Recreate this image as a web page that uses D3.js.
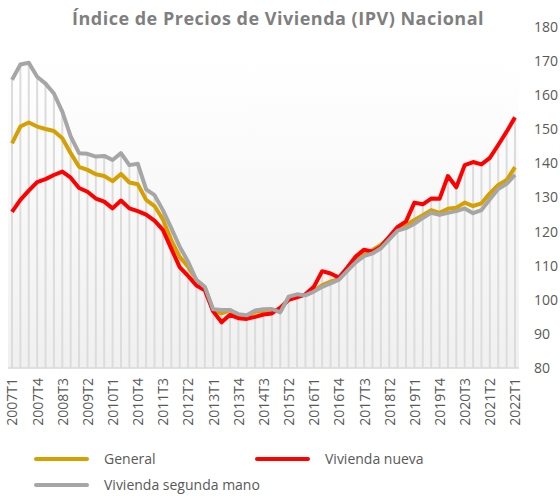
<!DOCTYPE html>
<html>
<head>
<meta charset="utf-8">
<script src="https://cdn.jsdelivr.net/npm/d3@7"></script>
<style>
  body { margin: 0; background: #fff; }
  svg { display: block; font-family: 'Open Sans', sans-serif; }
</style>
</head>
<body>
<svg id="chart" width="560" height="496"></svg>
<script>
// quarters 2007T1 .. 2022T1
const quarters = [];
for (let y = 2007; y <= 2022; y++) {
    for (let q = 1; q <= 4; q++) {
        if (y === 2022 && q > 1) break;
        quarters.push(`${y}T${q}`);
    }
}

const tickLabels = ['2007T1', '2007T4', '2008T3', '2009T2', '2010T1', '2010T4', '2011T3',
    '2012T2', '2013T1', '2013T4', '2014T3', '2015T2', '2016T1', '2016T4', '2017T3',
    '2018T2', '2019T1', '2019T4', '2020T3', '2021T2', '2022T1'];

const yTicks = [80, 90, 100, 110, 120, 130, 140, 150, 160, 170, 180];

const general = [145.9, 150.8, 152.0, 150.8, 150.1, 149.5, 147.4, 143.0, 139.0, 138.1,
    136.8, 136.3, 134.8, 136.9, 134.4, 133.9, 129.3, 127.5, 123.6, 117.5,
    112.6, 109.7, 105.8, 103.7, 96.8, 96.0, 97.0, 95.2, 95.0, 96.5,
    96.8, 97.0, 97.0, 100.3, 101.2, 101.4, 102.6, 104.3, 105.3, 106.1,
    108.8, 111.5, 113.4, 114.6, 116.1, 118.3, 121.2, 121.9, 123.4, 124.8,
    126.3, 125.5, 126.7, 127.0, 128.5, 127.5, 128.3, 131.2, 133.7, 135.1, 138.9];

const nueva = [125.8, 129.3, 132.0, 134.5, 135.4, 136.6, 137.6, 135.8, 132.8, 131.7,
    129.7, 128.8, 126.8, 129.1, 126.8, 126.0, 125.0, 123.2, 120.5, 115.0,
    109.6, 107.0, 104.2, 102.8, 96.6, 93.4, 95.6, 94.6, 94.4, 95.0,
    95.7, 96.0, 97.7, 100.0, 100.7, 101.6, 103.8, 108.4, 107.7, 106.5,
    109.5, 112.7, 114.7, 114.1, 115.6, 118.5, 121.4, 123.0, 128.5, 128.0,
    129.7, 129.6, 136.3, 133.0, 139.5, 140.4, 139.7, 141.6, 145.4, 149.3, 153.5];

const segundaMano = [164.5, 169.0, 169.5, 165.4, 163.4, 160.5, 155.2, 147.9, 143.0, 142.8,
    142.0, 142.2, 141.0, 143.0, 139.5, 139.9, 132.4, 130.7, 126.3, 121.0,
    115.6, 111.2, 105.8, 103.8, 97.2, 97.0, 97.0, 95.8, 95.5, 96.9,
    97.2, 97.3, 96.3, 100.9, 101.6, 101.3, 102.4, 103.8, 104.8, 105.9,
    108.5, 111.0, 112.8, 113.6, 115.1, 117.7, 120.3, 121.0, 122.3, 124.0,
    125.5, 124.9, 125.5, 126.0, 126.8, 125.4, 126.3, 129.5, 132.5, 134.0, 136.6];

const series = [
    { name: 'General', values: general, color: '#D6A000' },
    { name: 'Vivienda nueva', values: nueva, color: '#FF0000' },
    { name: 'Vivienda segunda mano', values: segundaMano, color: '#A6A6A6' },
];

const svg = d3.select('#chart');
const textColor = '#595959';

const x = d3.scalePoint().domain(quarters).range([12, 515]);
const y = d3.scaleLinear().domain([80, 180]).range([368, 27]);

// Plot background gradient
const grad = svg.append('defs').append('linearGradient')
    .attr('id', 'bg').attr('x1', 0).attr('y1', 0).attr('x2', 0).attr('y2', 1);
grad.append('stop').attr('offset', '0%').attr('stop-color', '#ffffff');
grad.append('stop').attr('offset', '100%').attr('stop-color', '#f0f0f0');
svg.append('rect')
    .attr('x', 8).attr('y', 60)
    .attr('width', 511).attr('height', y(80) - 60)
    .attr('fill', 'url(#bg)');

// Title
svg.append('text')
    .attr('x', 278).attr('y', 25)
    .attr('text-anchor', 'middle')
    .attr('font-size', 18).attr('font-weight', 'bold')
    .attr('letter-spacing', 0.5)
    .attr('fill', '#7f7f7f')
    .text('Índice de Precios de Vivienda (IPV) Nacional');

// Drop lines
svg.append('g').selectAll('line')
    .data(quarters)
    .join('line')
    .attr('x1', (d) => x(d)).attr('x2', (d) => x(d))
    .attr('y1', y(80))
    .attr('y2', (d, i) => y(d3.max(series, (s) => s.values[i])))
    .attr('stroke', '#dcdcdc').attr('stroke-width', 2);

// bottom border
svg.append('line')
    .attr('x1', 8).attr('x2', 519)
    .attr('y1', y(80)).attr('y2', y(80))
    .attr('stroke', '#d9d9d9').attr('stroke-width', 1.5);

// Y axis (right)
const yAxisGroup = svg.append('g')
    .attr('transform', 'translate(530,0)')
    .call(d3.axisRight(y).tickValues(yTicks).tickSize(0).tickPadding(4));
yAxisGroup.select('.domain').remove();
yAxisGroup.selectAll('text')
    .attr('fill', textColor)
    .attr('font-size', 14)
    .attr('font-family', "'Open Sans', sans-serif");

// X axis labels
const xAxisGroup = svg.append('g')
    .attr('transform', `translate(0,${y(80)})`)
    .call(d3.axisBottom(x).tickValues(tickLabels).tickSize(0));
xAxisGroup.select('.domain').remove();
xAxisGroup.selectAll('text')
    .attr('fill', textColor)
    .attr('font-size', 14)
    .attr('font-family', "'Open Sans', sans-serif")
    .attr('text-anchor', 'end')
    .attr('transform', 'translate(0,10) rotate(-90)')
    .attr('x', 0).attr('y', 0).attr('dy', '0.35em');

// Lines
const line = d3.line()
    .x((d, i) => x(quarters[i]))
    .y((d) => y(d));

svg.append('g').selectAll('path')
    .data(series)
    .join('path')
    .attr('d', (d) => line(d.values))
    .attr('fill', 'none')
    .attr('stroke', (d) => d.color)
    .attr('stroke-width', 4)
    .attr('stroke-linejoin', 'round');

// Legend
const legendPos = [[36, 459], [257, 459], [36, 485]];
const legend = svg.append('g').selectAll('g')
    .data(series)
    .join('g')
    .attr('transform', (d, i) => `translate(${legendPos[i][0]},${legendPos[i][1]})`);
legend.append('line')
    .attr('x1', 0).attr('x2', 51)
    .attr('stroke', (d) => d.color)
    .attr('stroke-width', 4)
    .attr('stroke-linecap', 'round');
legend.append('text')
    .attr('x', 68).attr('dy', '0.35em')
    .attr('fill', textColor)
    .attr('font-size', 14)
    .text((d) => d.name);
</script>
</body>
</html>
